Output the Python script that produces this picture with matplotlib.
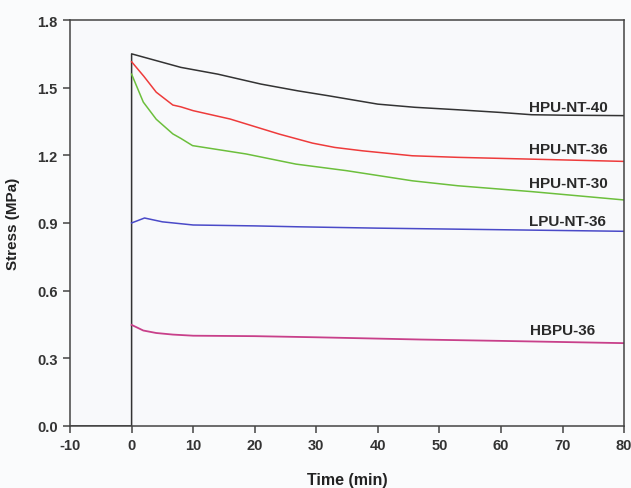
import matplotlib
matplotlib.use("Agg")
import matplotlib.pyplot as plt

plt.rcParams['font.family'] = ['Liberation Sans', 'DejaVu Sans']
plt.rcParams['font.weight'] = 'bold'

# Data (time in min, stress in MPa)
t_hpu40 = [-10, 0, 0, 8, 14, 21, 27, 32, 40, 46, 53, 60, 65, 70, 80]
s_hpu40 = [0.0, 0.0, 1.65, 1.59, 1.56, 1.516, 1.486, 1.464, 1.427, 1.413, 1.402, 1.39, 1.38, 1.378, 1.376]

t_hpu36 = [0, 2, 4, 6.7, 8, 10, 16, 24, 29.4, 33, 37.5, 45.6, 53, 65, 80]
s_hpu36 = [1.615, 1.55, 1.48, 1.423, 1.415, 1.398, 1.361, 1.294, 1.254, 1.235, 1.22, 1.198, 1.191, 1.183, 1.173]

t_hpu30 = [0, 1.9, 4, 6.7, 8, 9.9, 18.6, 26.7, 34.9, 45.6, 53, 65, 80]
s_hpu30 = [1.56, 1.436, 1.36, 1.295, 1.275, 1.243, 1.206, 1.161, 1.132, 1.087, 1.065, 1.039, 1.002]

t_lpu36 = [0, 2.1, 5, 10, 20, 27, 40, 60, 80]
s_lpu36 = [0.90, 0.922, 0.905, 0.891, 0.887, 0.883, 0.877, 0.870, 0.863]

t_hbpu36 = [0, 1.9, 4, 6.7, 10, 20, 30, 47, 60, 80]
s_hbpu36 = [0.448, 0.423, 0.412, 0.405, 0.40, 0.398, 0.393, 0.383, 0.377, 0.367]

labels = ['HPU-NT-40', 'HPU-NT-36', 'HPU-NT-30', 'LPU-NT-36', 'HBPU-36']
label_x = [64.5, 64.5, 64.5, 64.5, 64.8]
label_y = [1.415, 1.228, 1.076, 0.907, 0.427]

xticks = [-10, 0, 10, 20, 30, 40, 50, 60, 70, 80]
yticks = [0.0, 0.3, 0.6, 0.9, 1.2, 1.5, 1.8]

fig = plt.figure(figsize=(6.31, 4.89), dpi=100)
fig.patch.set_facecolor('#fafbfc')
ax = fig.add_axes([0.111, 0.127, 0.878, 0.830])
ax.set_facecolor('#f8f9fb')

ax.plot(t_hpu40, s_hpu40, color='#333333', lw=1.1)
ax.plot(t_hpu36, s_hpu36, color='#ee3b3b', lw=1.1)
ax.plot(t_hpu30, s_hpu30, color='#6cbf3c', lw=1.1)
ax.plot(t_lpu36, s_lpu36, color='#4a4ac8', lw=1.1)
ax.plot(t_hbpu36, s_hbpu36, color='#c8408a', lw=1.3)

for lab, x, y in zip(labels, label_x, label_y):
    ax.text(x, y, lab, fontsize=11, fontweight='bold', color='#2a2a2a',
            ha='left', va='center')

ax.set_xlim(-10, 80)
ax.set_ylim(0, 1.8)
ax.set_xticks(xticks)
ax.set_yticks(yticks)
ax.set_xticklabels([str(v) for v in xticks])
ax.set_yticklabels([f'{v:.1f}' for v in yticks])
for sp in ax.spines.values():
    sp.set_color('#444444')
    sp.set_linewidth(1.1)
ax.tick_params(direction='out', length=5, width=1.1, colors='#444444',
               labelsize=10.5, labelcolor='#333333', pad=4)
for lbl in ax.get_xticklabels() + ax.get_yticklabels():
    lbl.set_fontweight('bold')

ax.set_xlabel('Time (min)', fontsize=11.5, fontweight='bold', color='#222222', labelpad=14)
ax.set_ylabel('Stress (MPa)', fontsize=11, fontweight='bold', color='#222222', labelpad=12)

fig.savefig('out.png', dpi=100, facecolor=fig.get_facecolor())
